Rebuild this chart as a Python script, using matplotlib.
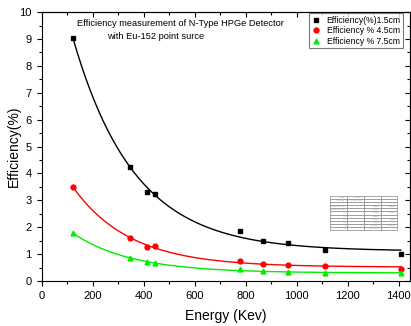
import numpy as np
import matplotlib.pyplot as plt

plt.rcParams['font.family'] = ['Liberation Sans', 'DejaVu Sans']

# Eu-152 gamma lines (keV)
energy = [121.8, 344.3, 411.1, 444.0, 778.9, 867.4, 964.1, 1112.1, 1408.0]
eff_15 = [9.05, 4.25, 3.32, 3.25, 1.87, 1.48, 1.43, 1.15, 1.00]
eff_45 = [3.50, 1.60, 1.25, 1.30, 0.75, 0.65, 0.60, 0.55, 0.45]
eff_75 = [1.78, 0.85, 0.70, 0.68, 0.43, 0.36, 0.35, 0.30, 0.28]

labels = ['Efficiency(%)1.5cm', 'Efficiency % 4.5cm', 'Efficiency % 7.5cm']
colors = ['black', 'red', '#00ee00']
markers = ['s', 'o', '^']


def expdec1(x, y):
    # y = y0 + A1*exp(-x/t1), grid over t1, linear lsq for y0, A1
    x = np.asarray(x)
    y = np.asarray(y)
    best = None
    for t in np.linspace(50, 1500, 2901):
        M = np.column_stack([np.ones_like(x), np.exp(-x / t)])
        coef, res, _, _ = np.linalg.lstsq(M, y, rcond=None)
        r = np.sum((M @ coef - y) ** 2)
        if best is None or r < best[0]:
            best = (r, coef[0], coef[1], t)
    return best


fig = plt.figure(figsize=(4.11, 3.26), dpi=100)
ax = fig.add_axes([0.102, 0.138, 0.896, 0.825])

xs = np.linspace(121.8, 1408, 300)
fits = []
for data, lab, c, m in zip([eff_15, eff_45, eff_75], labels, colors, markers):
    r, y0, a1, t1 = expdec1(energy, data)
    fits.append((r, y0, a1, t1))
    ax.plot(xs, y0 + a1 * np.exp(-xs / t1), color=c, lw=1.0)
    ax.plot(energy, data, linestyle='none', marker=m, color=c, ms=3.5, label=lab)

ax.set_xlim(0, 1445)
ax.set_ylim(0, 10)
ax.set_xticks(np.arange(0, 1401, 200))
ax.set_xticks(np.arange(100, 1401, 200), minor=True)
ax.set_yticks(np.arange(0, 11, 1))
ax.set_yticks(np.arange(0.5, 10, 1), minor=True)
ax.tick_params(which='both', direction='out', labelsize=8, width=0.8)
ax.tick_params(which='major', length=3.5, pad=4)
ax.tick_params(which='minor', length=2)

# inward ticks on top and right like Origin
axt = ax.secondary_xaxis('top')
axt.set_xticks(np.arange(0, 1401, 200))
axt.set_xticks(np.arange(100, 1401, 200), minor=True)
axt.tick_params(which='both', direction='in', labeltop=False, width=0.8)
axt.tick_params(which='major', length=3.5)
axt.tick_params(which='minor', length=2)
axr = ax.secondary_yaxis('right')
axr.set_yticks(np.arange(0, 11, 1))
axr.set_yticks(np.arange(0.5, 10, 1), minor=True)
axr.tick_params(which='both', direction='in', labelright=False, width=0.8)
axr.tick_params(which='major', length=3.5)
axr.tick_params(which='minor', length=2)

ax.set_xlabel('Energy (Kev)', fontsize=10)
ax.xaxis.set_label_coords(0.5, -0.105)
ax.set_ylabel('Efficiency(%)', fontsize=10)
ax.yaxis.set_label_coords(-0.058, 0.5)

ax.text(0.375, 0.975, 'Efficiency measurement of N-Type HPGe Detector',
        transform=ax.transAxes, ha='center', va='top', fontsize=6.7)
ax.text(0.177, 0.927, 'with Eu-152 point surce',
        transform=ax.transAxes, ha='left', va='top', fontsize=6.7)

leg = ax.legend(loc='upper right', fontsize=6.2, frameon=True, fancybox=False,
                edgecolor='#555555', borderaxespad=0.15, handlelength=1.2,
                handletextpad=0.6, labelspacing=0.15, borderpad=0.3,
                bbox_to_anchor=(0.985, 1.0))
leg.get_frame().set_linewidth(0.8)

# small fit-parameter table (Origin style)
rows = [['Model', 'ExpDec1', '', ''],
        ['Equation', 'y0+A1*exp(-x/t1)', '', ''],
        ['', '', 'B', 'C']]
for name, k in [('Reduced Chi-Sqr', 0), ('y0', 1), ('A1', 2), ('t1', 3)]:
    rows.append([name, '', '%.4f' % fits[0][k], '%.4f' % fits[1][k]])
    rows.append([name, '', '%.4f' % fits[2][k], ''])
tb = ax.table(cellText=rows, bbox=[0.783, 0.19, 0.182, 0.126], cellLoc='right')
tb.auto_set_font_size(False)
tb.set_fontsize(1.5)
for cell in tb.get_celld().values():
    cell.set_edgecolor('#888888')
    cell.set_linewidth(0.5)
    cell.get_text().set_color('#999999')

fig.savefig('out.png', dpi=100)
